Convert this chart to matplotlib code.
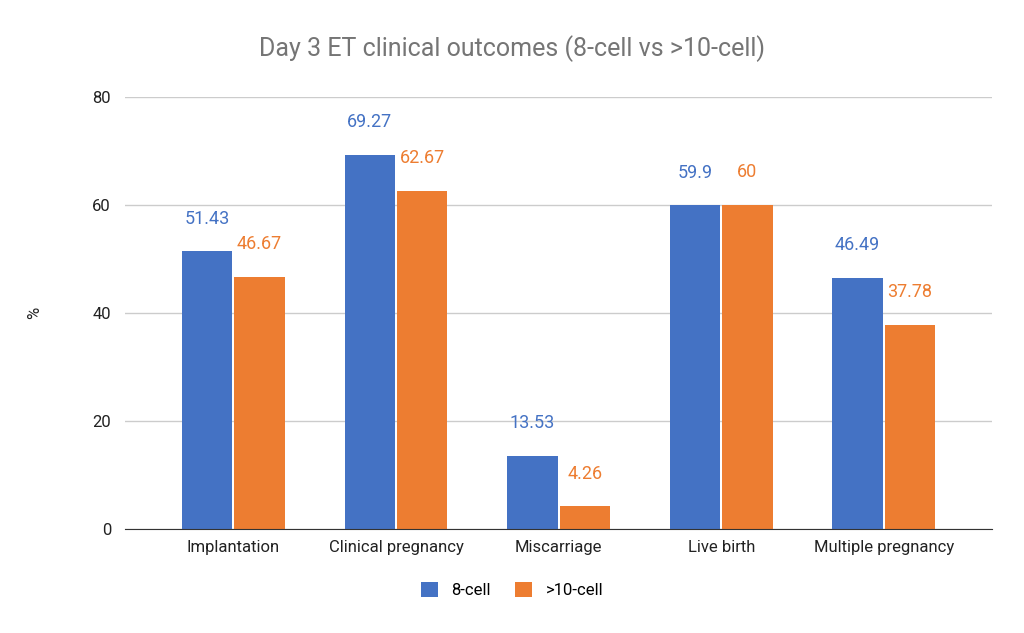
import numpy as np
import matplotlib.pyplot as plt

plt.rcParams['font.family'] = ['Roboto', 'DejaVu Sans']

categories = ["Implantation", "Clinical pregnancy", "Miscarriage", "Live birth", "Multiple pregnancy"]
cell8 = [51.43, 69.27, 13.53, 59.9, 46.49]
cell10 = [46.67, 62.67, 4.26, 60, 37.78]
labels8 = ["51.43", "69.27", "13.53", "59.9", "46.49"]
labels10 = ["46.67", "62.67", "4.26", "60", "37.78"]

blue = "#4472C4"
orange = "#ED7D31"

fig = plt.figure(figsize=(10.24, 6.33), dpi=100)
ax = fig.add_axes([0.122, 0.164, 0.847, 0.683])

x = np.arange(len(categories))
w = 0.31
b1 = ax.bar(x - w / 2 - 0.006, cell8, w, color=blue, label="8-cell")
b2 = ax.bar(x + w / 2 + 0.006, cell10, w, color=orange, label=">10-cell")

for rect, lab in zip(b1, labels8):
    ax.annotate(lab, (rect.get_x() + rect.get_width() / 2, rect.get_height()),
                xytext=(0, 17), textcoords="offset points", ha="center", va="bottom",
                color=blue, fontsize=13)
for rect, lab in zip(b2, labels10):
    ax.annotate(lab, (rect.get_x() + rect.get_width() / 2, rect.get_height()),
                xytext=(0, 17), textcoords="offset points", ha="center", va="bottom",
                color=orange, fontsize=13)

ax.set_xlim(-0.667, 4.667)
ax.set_ylim(0, 80)
ax.set_yticks([0, 20, 40, 60, 80])
ax.set_xticks(x)
ax.set_xticklabels(categories, fontsize=12, color="#222222")
ax.tick_params(axis="y", labelsize=12, colors="#222222", length=0, pad=10)
ax.tick_params(axis="x", length=0, pad=8)
ax.grid(axis="y", color="#cccccc", linewidth=1)
ax.set_axisbelow(True)
for s in ["top", "right", "left"]:
    ax.spines[s].set_visible(False)
ax.spines["bottom"].set_color("#333333")
ax.set_ylabel("%", fontsize=12, color="#222222")
ax.yaxis.set_label_coords(-0.096, 0.5)

fig.suptitle("Day 3 ET clinical outcomes (8-cell vs >10-cell)", y=0.945,
             fontsize=18, color="#757575")
fig.legend(handles=[b1, b2], loc="center", bbox_to_anchor=(0.5, 0.068), ncol=2,
           frameon=False, fontsize=12, handlelength=1.0, handleheight=1.0,
           columnspacing=1.5)

fig.savefig("out.png", dpi=100)
